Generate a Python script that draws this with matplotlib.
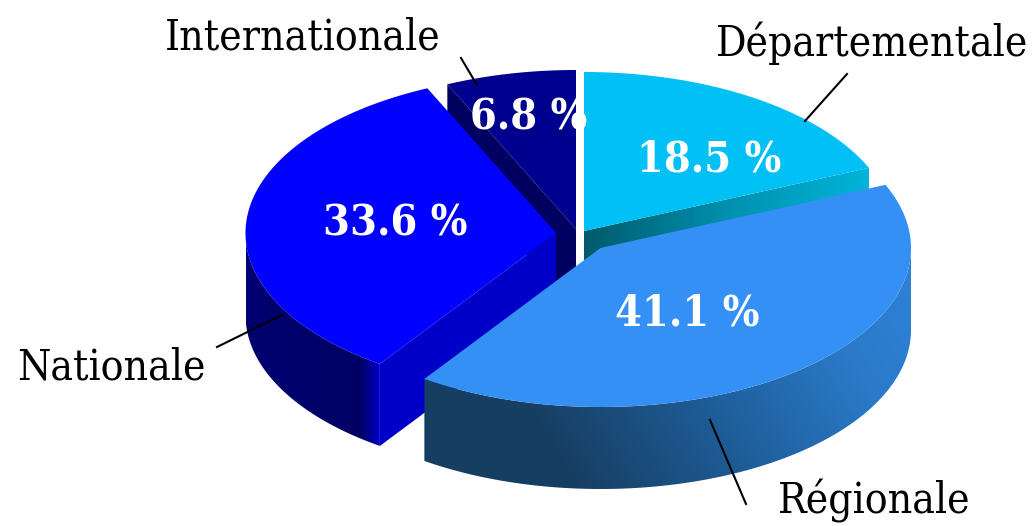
import numpy as np
import matplotlib
matplotlib.use('Agg')
import matplotlib.pyplot as plt
from matplotlib.patches import Polygon
from matplotlib.colors import LinearSegmentedColormap

# parts du camembert, dans le sens horaire depuis midi
labels = ['Départementale', 'Régionale', 'Nationale', 'Internationale']
shares = [18.5, 41.1, 33.6, 6.8]

# mise en page (pixels)
rx, ry, depth = 310.5, 159, 82
off_x = [584, 600.5, 556, 576]
off_y = [231, 248, 233, 229]
top_colors = ['#00c0f6', '#3490f5', '#0000ff', '#00008f']
pct_pos = [(709, 159), (687, 314), (395, 224), (529, 118)]
name_pos = [(872, 43), (874, 501), (111, 367), (303, 38)]
leaders = [((847, 74), (805, 121)), ((746, 504), (710, 420)),
           ((217, 347), (282, 315)), ((461, 58), (477, 85))]


def point(i, ang, dz=0):
    ang = np.radians(ang)
    return off_x[i] + rx * np.sin(ang), off_y[i] - ry * np.cos(ang) + dz


def arc(i, a0, a1, dz=0):
    t = np.linspace(a0, a1, 120)
    x, y = point(i, t, dz)
    return np.column_stack([x, y])


def fill_grad(pts, stops, ax, tilt=0.0, zorder=1):
    # remplissage en degrade, coupe par le polygone
    cmap = LinearSegmentedColormap.from_list('g', stops)
    lo, hi = pts.min(axis=0), pts.max(axis=0)
    u, v = np.meshgrid(np.linspace(0, 1, 300), np.linspace(0, 1, 120))
    g = (u - tilt * v + tilt) / (1 + tilt)
    im = ax.imshow(g, cmap=cmap, vmin=0, vmax=1, extent=(lo[0], hi[0], hi[1], lo[1]), aspect='auto',
                   zorder=zorder, interpolation='bilinear')
    p = Polygon(pts, closed=True, fc='none', ec='none', transform=ax.transData)
    ax.add_patch(p)
    im.set_clip_path(p)


fig = plt.figure(figsize=(10.35, 5.26), dpi=100)
ax = fig.add_axes([0, 0, 1, 1])
ax.axis('off')

edges = np.concatenate([[0], np.cumsum(shares)]) * 3.6

# Internationale : flanc gauche puis dessus
a0, a1 = edges[3], edges[4]
tip = np.array([off_x[3], off_y[3]])
wall = np.array([point(3, a0), tuple(tip), tip + [0, depth], np.array(point(3, a0)) + [0, depth]])
ax.add_patch(Polygon(wall, fc='#000060', ec='none', zorder=1))
ax.add_patch(Polygon(np.vstack([[tip], arc(3, a0, a1)]), fc=top_colors[3], ec='none', zorder=2))

# Departementale : flanc radial en degrade, puis dessus
a0, a1 = edges[0], edges[1]
tip = np.array([off_x[0], off_y[0]])
end = np.array(point(0, a1))
wall = np.array([tip, end, end + [0, depth], tip + [0, depth]])
fill_grad(wall, ['#005a6c', '#0090ae', '#00b4d8'], ax, zorder=3)
ax.add_patch(Polygon(np.vstack([[tip], arc(0, a0, a1)]), fc=top_colors[0], ec='none', zorder=4))

# Nationale : flanc exterieur, flanc radial, dessus
a0, a1 = edges[2], edges[3]
tip = np.array([off_x[2], off_y[2]])
outer = arc(2, a0, 270)
wall = np.vstack([outer, outer[::-1] + [0, depth]])
fill_grad(wall, [(0, '#000070'), (0.85, '#000064'), (0.93, '#00009a'), (1, '#0000d0')], ax, zorder=5)
start = np.array(point(2, a0))
wall = np.array([tip, start, start + [0, depth], tip + [0, depth]])
ax.add_patch(Polygon(wall, fc='#0000c8', ec='none', zorder=6))
ax.add_patch(Polygon(np.vstack([[tip], arc(2, a0, a1)]), fc=top_colors[2], ec='none', zorder=7))

# Regionale : flanc exterieur, dessus
a0, a1 = edges[1], edges[2]
tip = np.array([off_x[1], off_y[1]])
outer = arc(1, 90, a1)
wall = np.vstack([outer, outer[::-1] + [0, depth]])
fill_grad(wall, [(0, '#163e60'), (0.25, '#173f64'), (0.55, '#1f5f9c'), (0.8, '#2a7ac8'), (1, '#2e82d8')],
          ax, tilt=0.3, zorder=8)
ax.add_patch(Polygon(np.vstack([[tip], arc(1, a0, a1)]), fc=top_colors[1], ec='none', zorder=9))

ax.set_xlim(0, 1035)
ax.set_ylim(526, 0)

for (p, q) in leaders:
    ax.plot([p[0], q[0]], [p[1], q[1]], color='black', lw=1.5, zorder=10)

font = dict(family='DejaVu Serif', stretch='condensed')
for name, pos in zip(labels, name_pos):
    ax.text(pos[0], pos[1], name, ha='center', va='center', fontsize=30.5, color='black', zorder=11, **font)
for v, pos in zip(shares, pct_pos):
    ax.text(pos[0], pos[1], f'{v} %', ha='center', va='center', fontsize=31, color='white',
            fontweight='bold', zorder=11, **font)

fig.savefig('out.png', dpi=100)
